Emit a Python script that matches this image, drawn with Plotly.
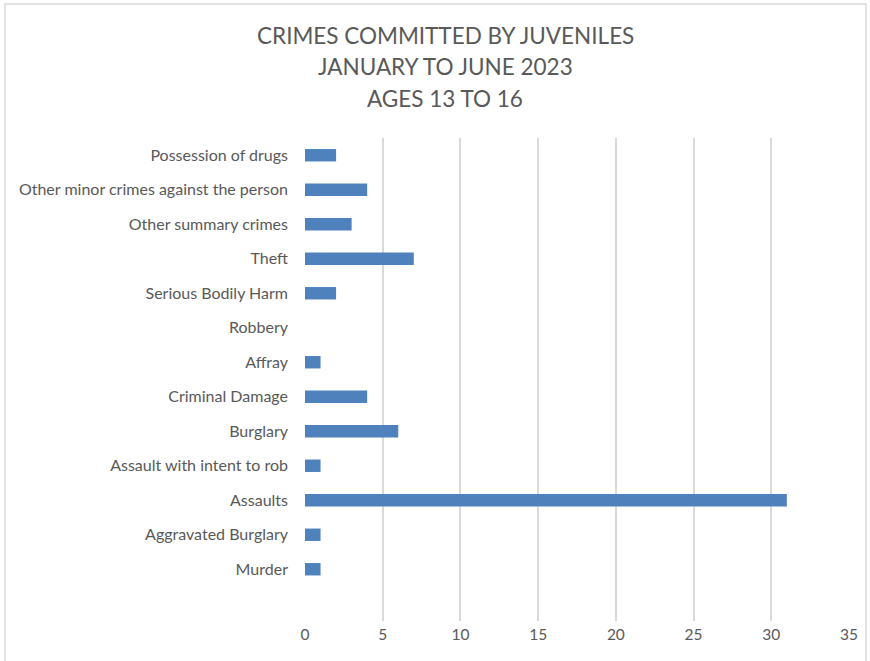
import plotly.graph_objects as go

# Offence categories, bottom to top as drawn on the axis
categories = [
    "Murder",
    "Aggravated Burglary",
    "Assaults",
    "Assault with intent to rob",
    "Burglary",
    "Criminal Damage",
    "Affray",
    "Robbery",
    "Serious Bodily Harm",
    "Theft",
    "Other summary crimes",
    "Other minor crimes against the person",
    "Possession of drugs",
]
counts = [1, 1, 31, 1, 6, 4, 1, 0, 2, 7, 3, 4, 2]
x_ticks = [0, 5, 10, 15, 20, 25, 30, 35]
title_lines = ["CRIMES COMMITTED BY JUVENILES", "JANUARY TO JUNE 2023", "AGES 13 TO 16"]

W, H = 870, 661
L, R, T, B = 305, 21, 138, 40
PW, PH = W - L - R, H - T - B

text_color = "#595959"
font_family = "Lato, Liberation Sans, Arial, sans-serif"

fig = go.Figure(
    go.Bar(
        y=categories,
        x=counts,
        orientation="h",
        marker=dict(color="#4F81BD", line=dict(width=0)),
        width=0.36,
        hoverinfo="x+y",
    )
)

# one annotation per title line, 32 px apart
title_annotations = [
    dict(
        text=line,
        xref="paper",
        yref="paper",
        x=(445 - L) / PW,
        y=(H - B - (35 + 32 * i)) / PH,
        xanchor="center",
        yanchor="middle",
        showarrow=False,
        font=dict(family=font_family, size=22.5, color=text_color),
    )
    for i, line in enumerate(title_lines)
]

fig.update_layout(
    width=W,
    height=H,
    margin=dict(l=L, r=R, t=T, b=B, pad=0),
    paper_bgcolor="white",
    plot_bgcolor="white",
    showlegend=False,
    xaxis=dict(
        range=[0, 35],
        tickvals=x_ticks,
        ticktext=[str(v) for v in x_ticks],
        showgrid=True,
        gridcolor="#D9D9D9",
        gridwidth=1.5,
        zeroline=False,
        showline=False,
        ticks="",
        ticklabelstandoff=2,
        tickfont=dict(family=font_family, size=15.5, color=text_color),
        fixedrange=True,
    ),
    yaxis=dict(
        type="category",
        categoryorder="array",
        categoryarray=categories,
        range=[-1.5, len(categories) - 0.5],
        showgrid=False,
        zeroline=False,
        showline=False,
        ticks="",
        ticklabelstandoff=16,
        tickfont=dict(family=font_family, size=16, color=text_color),
        fixedrange=True,
    ),
    annotations=title_annotations,
    shapes=[
        # chart frame around the whole figure
        dict(
            type="rect",
            xref="paper",
            yref="paper",
            x0=(5 - L) / PW,
            x1=(866 - L) / PW,
            y0=(H - B - 668) / PH,
            y1=(H - B - 4) / PH,
            line=dict(color="#D9D9D9", width=1.5),
            fillcolor="rgba(0,0,0,0)",
            layer="below",
        )
    ],
)

fig.write_html("out.html")
